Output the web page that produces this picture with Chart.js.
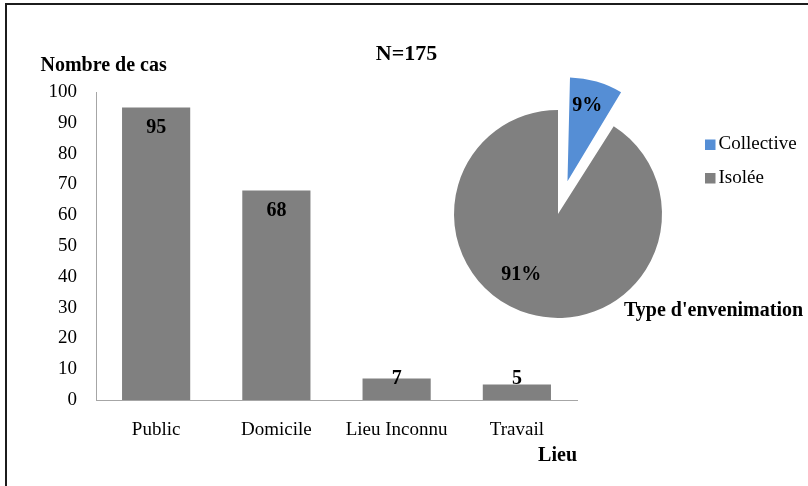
<!DOCTYPE html>
<html>
<head>
<meta charset="utf-8">
<script src="https://cdn.jsdelivr.net/npm/chart.js@4.4.1/dist/chart.umd.min.js"></script>
<style>
  html, body { margin: 0; padding: 0; background: #fff; }
  #wrap { position: relative; width: 808px; height: 486px; overflow: hidden; }
  #frame { position: absolute; left: 5px; top: 3px; right: -10px; bottom: -10px;
           border-left: 2px solid #1c1c1c; border-top: 2px solid #1c1c1c; }
  #bar { position: absolute; left: 0; top: 0; }
  #pie { position: absolute; left: 428px; top: 64px; }
</style>
</head>
<body>
<div id="wrap">
  <div id="frame"></div>
  <canvas id="bar" width="808" height="486"></canvas>
  <canvas id="pie" width="380" height="280"></canvas>
</div>
<script>
// Cas par lieu
const lieux = ['Public', 'Domicile', 'Lieu Inconnu', 'Travail'];
const nombreCas = [95, 68, 7, 5];
const graduationsY = [0, 10, 20, 30, 40, 50, 60, 70, 80, 90, 100];

// Type d'envenimation (%)
const typesEnvenimation = ['Collective', 'Isolée'];
const partsPourcent = [9, 91];
const couleursTypes = ['#558ED5', '#808080'];

const totalCas = 175;

const SERIF = "'Liberation Serif', 'Times New Roman', serif";
Chart.defaults.font.family = SERIF;
Chart.defaults.color = '#000';

// value labels on the bars + free-standing captions
const barText = {
  id: 'barText',
  afterDatasetsDraw(chart) {
    const ctx = chart.ctx;
    const meta = chart.getDatasetMeta(0);
    const y0 = chart.scales.y.getPixelForValue(0);
    ctx.save();
    ctx.fillStyle = '#000';
    ctx.font = 'bold 20px ' + SERIF;
    ctx.textAlign = 'center';
    ctx.textBaseline = 'middle';
    meta.data.forEach((bar, i) => {
      const y = Math.min(bar.y + 20.5, y0 - 21.5);
      ctx.fillText(String(nombreCas[i]), bar.x, y);
    });
    ctx.textBaseline = 'alphabetic';
    ctx.textAlign = 'left';
    ctx.fillText('Nombre de cas', 40.5, 70.5);
    ctx.textAlign = 'right';
    ctx.fillText('Lieu', chart.chartArea.right, 460.5);
    ctx.textAlign = 'left';
    ctx.fillText("Type d'envenimation", 624, 316);
    ctx.font = 'bold 22px ' + SERIF;
    ctx.textAlign = 'center';
    ctx.fillText('N=' + totalCas, 406.5, 60);
    ctx.restore();
  }
};

new Chart(document.getElementById('bar'), {
  type: 'bar',
  data: {
    labels: lieux,
    datasets: [{
      data: nombreCas,
      backgroundColor: '#808080',
      borderWidth: 0,
      categoryPercentage: 1,
      barPercentage: 0.567
    }]
  },
  options: {
    responsive: false,
    animation: false,
    devicePixelRatio: 1,
    layout: { padding: { left: 36, top: 92, right: 231, bottom: 46 } },
    plugins: { legend: { display: false }, tooltip: { enabled: false } },
    scales: {
      x: {
        grid: { display: false, drawTicks: false },
        border: { color: '#a6a6a6', width: 1 },
        ticks: { font: { size: 19 }, color: '#000', padding: 19 },
        afterFit: s => { s.height = 40; }
      },
      y: {
        min: 0, max: 100,
        afterBuildTicks: s => { s.ticks = graduationsY.map(v => ({ value: v })); },
        grid: { display: false, drawTicks: false },
        border: { color: '#a6a6a6', width: 1 },
        ticks: { font: { size: 19 }, color: '#000', padding: 19 },
        afterFit: s => { s.width = 60; }
      }
    }
  },
  plugins: [barText]
});

// percentage labels and legend for the pie
const placementAngle = [-1.5, 15.2];   // degrees added to the slice bisector
const placementRayon = [0.75, 0.68];   // fraction of the radius

const pieText = {
  id: 'pieText',
  afterDatasetUpdate(chart) {
    // keep exploded slices at the same radius as the others
    chart.getDatasetMeta(0).data.forEach(arc => {
      const off = (arc.options.offset || 0) / 4;
      const fix = 1 - Math.sin(Math.min(Math.PI, arc.circumference || 0));
      arc.outerRadius -= off * fix;
    });
  },
  afterDatasetsDraw(chart) {
    const ctx = chart.ctx;
    const meta = chart.getDatasetMeta(0);
    ctx.save();
    ctx.fillStyle = '#000';
    ctx.font = 'bold 20px ' + SERIF;
    ctx.textAlign = 'center';
    ctx.textBaseline = 'middle';
    meta.data.forEach((arc, i) => {
      const mid = (arc.startAngle + arc.endAngle) / 2;
      const shift = (arc.options.offset || 0) / 4;
      const cx = arc.x + Math.cos(mid) * shift;
      const cy = arc.y + Math.sin(mid) * shift;
      const a = mid + placementAngle[i] * Math.PI / 180;
      const r = 104 * placementRayon[i];
      ctx.fillText(partsPourcent[i] + '%', cx + Math.cos(a) * r, cy + Math.sin(a) * r);
    });
    // legend
    const colors = chart.data.datasets[0].backgroundColor;
    const rows = [80.5, 114];
    ctx.font = '19px ' + SERIF;
    ctx.textAlign = 'left';
    chart.data.labels.forEach((lab, i) => {
      ctx.fillStyle = colors[i];
      ctx.fillRect(277, rows[i] - 5, 10.5, 10.5);
      ctx.fillStyle = '#000';
      ctx.fillText(lab, 290.5, rows[i]);
    });
    ctx.restore();
  }
};

new Chart(document.getElementById('pie'), {
  type: 'pie',
  data: {
    labels: typesEnvenimation,
    datasets: [{
      data: partsPourcent,
      backgroundColor: couleursTypes,
      borderWidth: 0,
      offset: [136, 0]   // arcs are pushed out by a quarter of this value
    }]
  },
  options: {
    responsive: false,
    animation: false,
    devicePixelRatio: 1,
    radius: 104,
    layout: { padding: { top: 20, right: 120 } },
    plugins: { legend: { display: false }, tooltip: { enabled: false } }
  },
  plugins: [pieText]
});
</script>
</body>
</html>
